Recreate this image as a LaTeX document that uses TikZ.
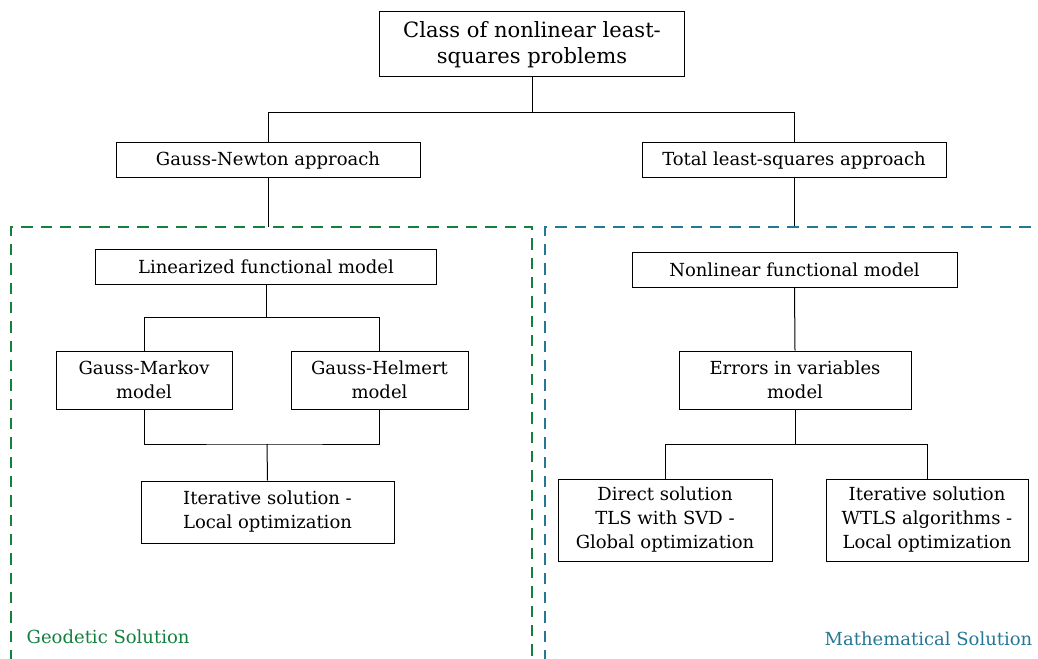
\documentclass[tikz,border=0pt]{standalone}
\usepackage{fontspec}
\setmainfont{DejaVu Serif}
\usepackage{tikz}
\usetikzlibrary{positioning,calc}
\usepackage{xcolor}
\definecolor{geogreen}{RGB}{20,128,62}
\definecolor{mathblue}{RGB}{36,120,150}

\begin{document}
\begin{tikzpicture}[x=0.75pt,y=-0.75pt,
  every node/.style={font=\fontsize{13.5}{18}\selectfont},
  box/.style={draw,line width=0.75pt,align=center,inner sep=0pt},
  sz/.style 2 args={minimum width=#1*0.75pt,minimum height=#2*0.75pt},
  link/.style={line width=0.75pt},
  region/.style={line width=2.2pt,dash pattern=on 8.5pt off 6pt}]
\useasboundingbox (0,0) rectangle (1038,659);
\clip (0,0) rectangle (1038,659);
% boxes
\node[box,sz={305}{65},font=\fontsize{15.8}{19.5}\selectfont] (cls) at (532,44.5) {Class of nonlinear least-\\squares problems};
\node[box,sz={304}{35}] (gna) at (268,160.5) {Gauss-Newton approach};
\node[box,sz={304}{35}] (tla) at (794,160.5) {Total least-squares approach};
\node[box,sz={341}{35}] (lfm) at (266,267) {Linearized functional model};
\node[box,sz={176}{58}] (gmm) at (144,380) {Gauss-Markov\\model};
\node[box,sz={177}{58}] (ghm) at (379.5,380) {Gauss-Helmert\\model};
\node[box,sz={253}{62}] (itl) at (267.5,512) {Iterative solution -\\Local optimization};
\node[box,sz={325}{34}] (nfm) at (794.5,270) {Nonlinear functional model};
\node[box,sz={232}{58}] (eiv) at (795,380) {Errors in variables\\model};
\node[box,sz={214}{82}] (dsg) at (665,520) {Direct solution\\TLS with SVD -\\Global optimization};
\node[box,sz={202}{82}] (isw) at (927,520) {Iterative solution\\WTLS algorithms -\\Local optimization};
% junctions
\coordinate (j0) at (532,113);
\coordinate (j1) at (266,317);
\coordinate (j2) at (267,444);
\coordinate (j3) at (795,444);
\coordinate (g0) at (268,227);
\coordinate (m0) at (794,227);
% connectors
\draw[link] (cls.south) -- (j0) -| (gna.north);
\draw[link] (j0) -| (tla.north);
\draw[link] (gna.south) -- (g0);
\draw[link] (tla.south) -- (m0);
\draw[link] (lfm.south) -- (j1) -| (gmm.north);
\draw[link] (j1) -| (ghm.north);
\draw[link] (gmm.south) |- (j2) -| (ghm.south);
\draw[link] (j2) -- (itl.north);
\draw[link] (nfm.south) -- (eiv.north);
\draw[link] (eiv.south) -- (j3) -| (dsg.north);
\draw[link] (j3) -| (isw.north);
% solution regions
\draw[region,geogreen] (11,700) -- (11,227) -- (532,227) -- (532,700);
\draw[region,mathblue] (545,700) -- (545,227) -- (1100,227);
\node[text=geogreen,anchor=west] (geo) at (22,637) {Geodetic Solution};
\node[text=mathblue,anchor=east] (mat) at (1037,639) {Mathematical Solution};
\end{tikzpicture}
\end{document}
